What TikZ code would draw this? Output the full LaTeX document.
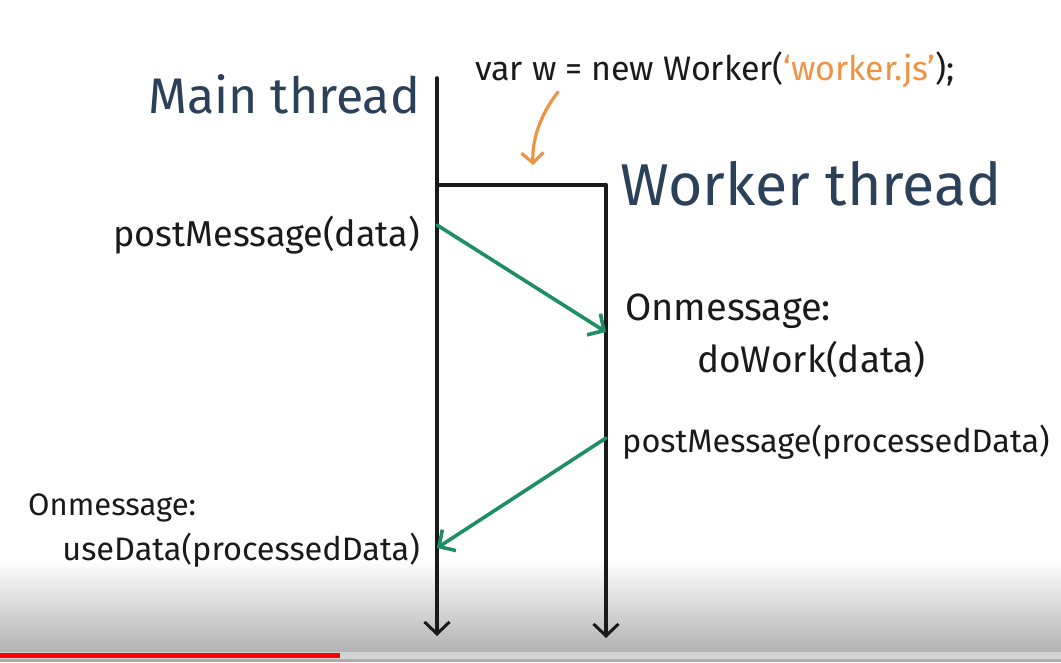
\documentclass[tikz,border=0pt]{standalone}
\usepackage{fontspec}
\setmainfont{Fira Sans}
\usetikzlibrary{arrows.meta}
\definecolor{inkblack}{HTML}{1A1A1A}
\definecolor{inkblue}{HTML}{2B4059}
\definecolor{msggreen}{HTML}{1E8F63}
\definecolor{jsorange}{HTML}{EE9344}
\tikzset{
  lifeline/.style={line width=3.6pt, inkblack, -{Straight Barb[length=12pt,width=25pt,line width=3pt]}},
  msgarrow/.style={line width=3.6pt, msggreen, -{Straight Barb[length=12pt,width=25pt]}},
  title/.style={inkblue, font=\fontsize{50}{50}\selectfont, inner sep=0pt},
  call/.style={inkblack, font=\fontsize{31}{31}\selectfont, inner sep=0pt},
}
\newcommand{\fsz}[1]{\fontsize{#1}{#1}\selectfont}
\begin{document}
\begin{tikzpicture}[x=1pt, y=-1pt, line cap=round, line join=round]
    \useasboundingbox[fill=white] (0,0) rectangle (1061,662);
    % video bar at the bottom
    \shade[top color=white, bottom color=black!30] (0,560) rectangle (1061,652);
    \fill[black!17] (0,652) rectangle (1061,659);
    \fill[black!32] (0,659) rectangle (1061,662);
    \fill[red] (0,653) rectangle (340,658);
    % lifelines
    \coordinate (mtop) at (437,78);
    \coordinate (mend) at (437,636);
    \coordinate (wtop) at (606,185);
    \coordinate (wend) at (606,638);
    \draw[lifeline] (mtop) -- (mend);
    \draw[line width=3.6pt, inkblack] (437,185) -- (wtop);
    \draw[lifeline] (wtop) -- (wend);
    % labels
    \node[title, anchor=base west] (main) at (148,113) {Main thread};
    \node[title, anchor=base west, font=\fsz{59}] (worker) at (620,205) {Worker thread};
    \node[call, anchor=base west, font=\fsz{34}] (create) at (475,80)
      {var w = new Worker(\textcolor{jsorange}{`worker.js'});};
    \node[call, anchor=base east, font=\fsz{36}] (post1) at (420,246) {postMessage(data)};
    \node[call, anchor=base west, font=\fsz{38}] (onmsg1) at (625,320) {Onmessage:};
    \node[call, anchor=base west, font=\fsz{37}] (work) at (697,372) {doWork(data)};
    \node[call, anchor=base west, font=\fsz{32.5}] (post2) at (622,452) {postMessage(processedData)};
    \node[call, anchor=base west] (onmsg2) at (28,515) {Onmessage:};
    \node[call, anchor=base east, font=\fsz{32.5}] (use) at (420,560) {useData(processedData)};
    % messages
    \coordinate (send1) at (437,225);
    \coordinate (recv1) at (606,332);
    \coordinate (send2) at (606,438);
    \coordinate (recv2) at (437,548);
    \draw[msgarrow] (send1) -- (recv1);
    \draw[msgarrow] (send2) -- (recv2);
    \coordinate (otail) at (558,92);
    \coordinate (ohead) at (533,165);
    \draw[line width=3.2pt, jsorange, -{Straight Barb[length=10pt,width=22pt]}]
      (otail) .. controls (540,115) and (532,140) .. (ohead);
  \end{tikzpicture}
\end{document}
